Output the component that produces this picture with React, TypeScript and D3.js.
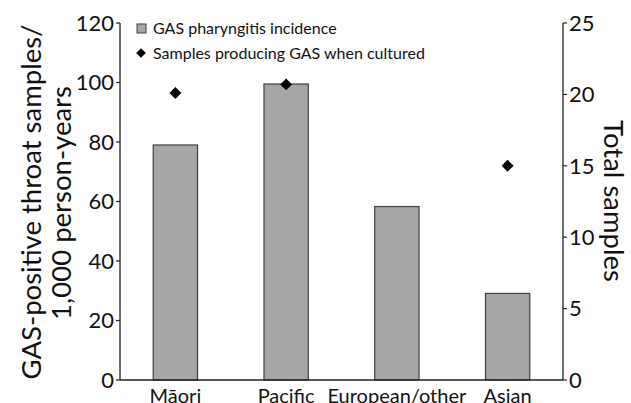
import React from "react";
import * as d3 from "d3";

const categories = ["Māori", "Pacific", "European/other", "Asian"];
const incidence = [79, 99.5, 58.3, 29.1];
const samples: (number | null)[] = [20.1, 20.7, null, 15.0];
const leftTicks = [0, 20, 40, 60, 80, 100, 120];
const rightTicks = [0, 5, 10, 15, 20, 25];

const W = 631, H = 403;
const M = { left: 120, right: 563, top: 23, bottom: 380 };
const FONT = "Lato, 'Open Sans', sans-serif";

export default function App() {
  const x = d3.scaleBand<string>().domain(categories).range([M.left, M.right]).paddingInner(0.6).paddingOuter(0.3);
  const yL = d3.scaleLinear().domain([0, 120]).range([M.bottom, M.top]);
  const yR = d3.scaleLinear().domain([0, 25]).range([M.bottom, M.top]);
  const diamond = d3.symbol().type(d3.symbolDiamond2).size(90)();
  const axisColor = "#222";
  return (
    <svg width={W} height={H} style={{ position: "absolute", left: 0, top: 0, background: "#fff" }} fontFamily={FONT}>
      {categories.map((c, i) => (
        <rect key={c} x={x(c)} y={yL(incidence[i])} width={x.bandwidth()} height={yL(0) - yL(incidence[i])}
          fill="#a6a6a6" stroke="#404040" strokeWidth={1.2} />
      ))}
      {categories.map((c, i) => samples[i] == null ? null : (
        <path key={c} d={diamond!} transform={`translate(${x(c)! + x.bandwidth() / 2},${yR(samples[i] as number)})`} fill="#000" />
      ))}
      <line x1={M.left} x2={M.left} y1={M.top} y2={M.bottom} stroke={axisColor} strokeWidth={1.3} />
      <line x1={M.left} x2={M.right} y1={M.bottom} y2={M.bottom} stroke={axisColor} strokeWidth={1.3} />
      <line x1={M.right} x2={M.right} y1={M.top} y2={M.bottom} stroke={axisColor} strokeWidth={1.3} />
      {leftTicks.map(t => (
        <g key={t}>
          <line x1={M.left - 4} x2={M.left} y1={yL(t)} y2={yL(t)} stroke={axisColor} strokeWidth={1.2} />
          <text x={M.left - 6} y={yL(t)} dy="0.35em" textAnchor="end" fontSize={22} fill="#111">{t}</text>
        </g>
      ))}
      {rightTicks.map(t => (
        <g key={t}>
          <line x1={M.right} x2={M.right + 4} y1={yR(t)} y2={yR(t)} stroke={axisColor} strokeWidth={1.2} />
          <text x={M.right + 6} y={yR(t)} dy="0.35em" textAnchor="start" fontSize={22} fill="#111">{t}</text>
        </g>
      ))}
      {categories.map(c => (
        <text key={c} x={x(c)! + x.bandwidth() / 2} y={403} textAnchor="middle" fontSize={20} fill="#111">{c}</text>
      ))}
      <text transform="translate(31,202) rotate(-90)" textAnchor="middle" dy="0.35em" fontSize={27.5} fill="#111">GAS-positive throat samples/</text>
      <text transform="translate(61,203) rotate(-90)" textAnchor="middle" dy="0.35em" fontSize={27.5} fill="#111">1,000 person-years</text>
      <text transform="translate(614,201) rotate(90)" textAnchor="middle" dy="0.35em" fontSize={27.5} fill="#111">Total samples</text>
      <rect x={137} y={24} width={9} height={9} fill="#a6a6a6" stroke="#404040" strokeWidth={1} />
      <text x={153} y={28} dy="0.35em" fontSize={16} fill="#111">GAS pharyngitis incidence</text>
      <path d={d3.symbol().type(d3.symbolDiamond2).size(60)()!} transform="translate(141,53)" fill="#000" />
      <text x={153} y={53} dy="0.35em" fontSize={16} fill="#111">Samples producing GAS when cultured</text>
    </svg>
  );
}
